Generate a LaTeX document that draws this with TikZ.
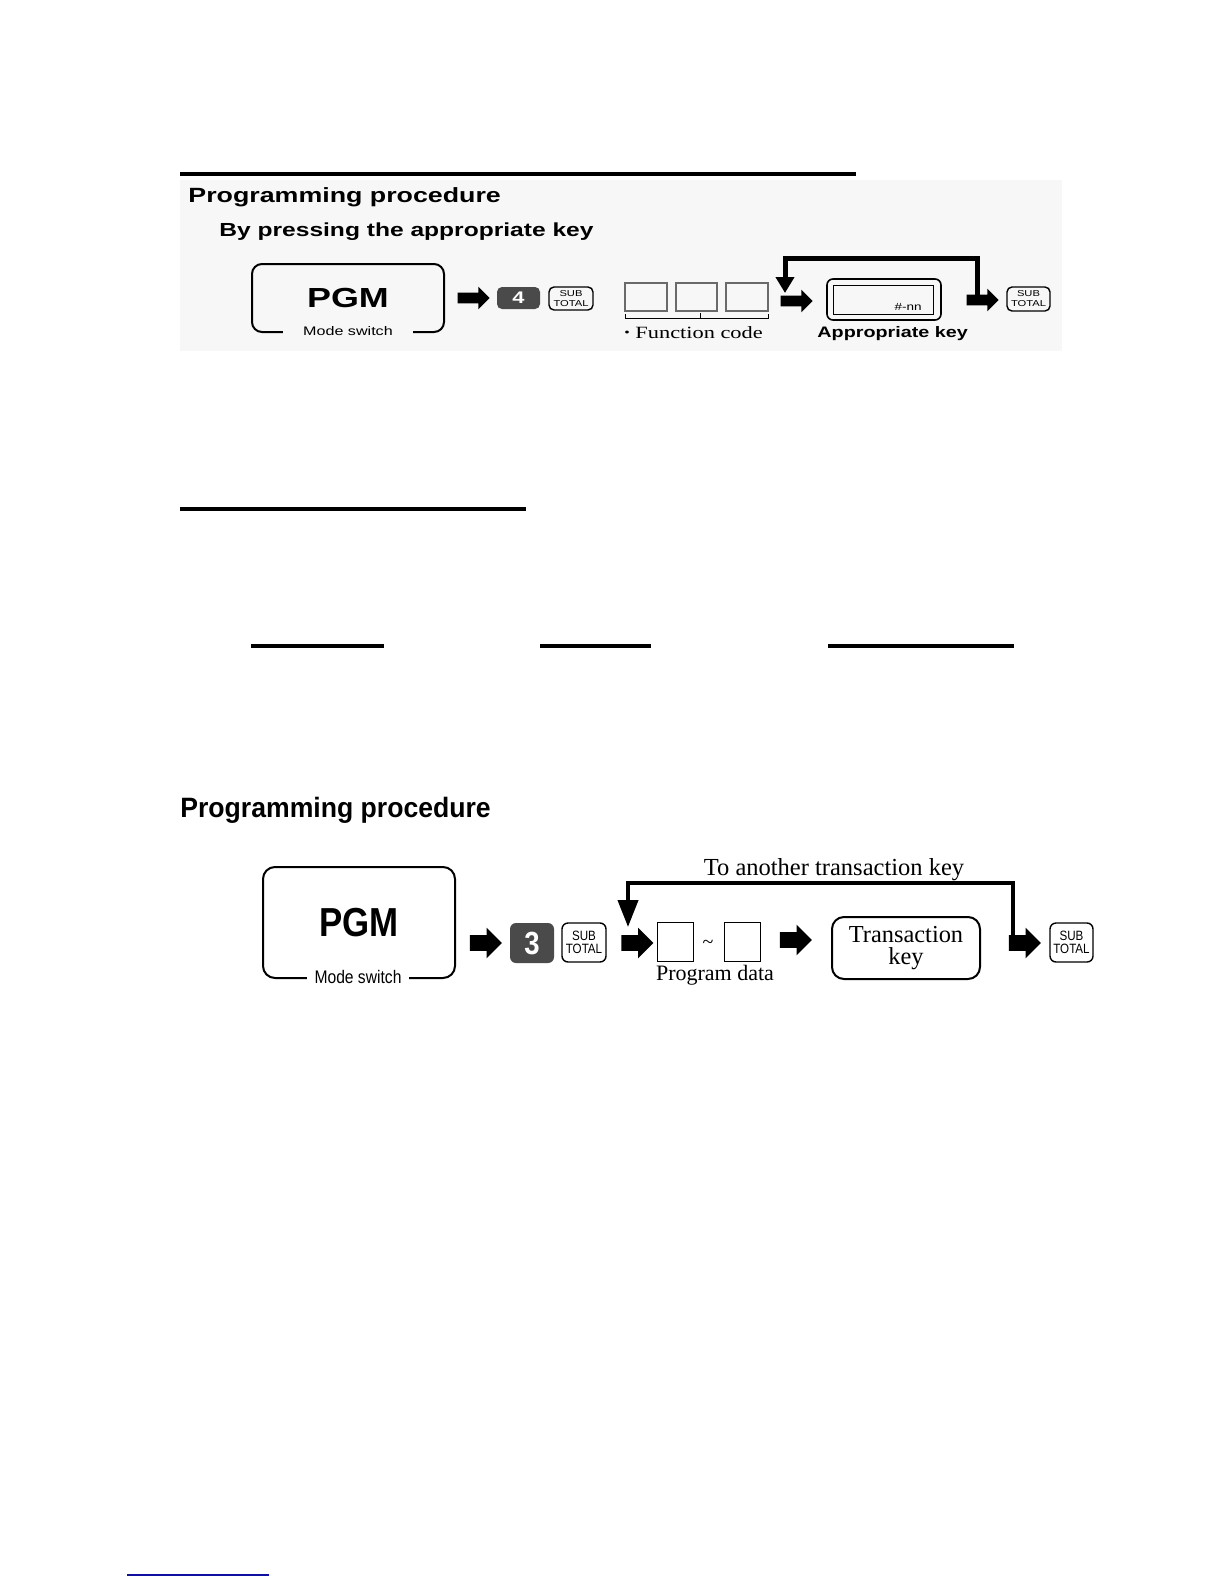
\documentclass[tikz,border=0pt]{standalone}
\usepackage{fontspec}
\setmainfont{Liberation Serif}
\newfontfamily\wsans[FakeStretch=1.3]{Liberation Sans}
\newfontfamily\wserif[FakeStretch=1.3]{Liberation Serif}
\newfontfamily\hsans[FakeStretch=0.95]{Liberation Sans}
\newfontfamily\nsans[FakeStretch=0.86]{Liberation Sans}
\newfontfamily\tserif{Liberation Serif}
\usetikzlibrary{shapes.arrows,arrows.meta}
\definecolor{keygray}{HTML}{4A4A4A}
\definecolor{boxgray}{HTML}{6A6A6A}
\definecolor{linkblue}{RGB}{16,16,160}
\definecolor{panelbg}{gray}{0.97}
\tikzset{
  barrowT/.style={single arrow, fill=black, draw=none, inner xsep=0pt, inner ysep=2.5pt,
    minimum height=16pt, single arrow head extend=3pt, single arrow head indent=0pt},
  barrowB/.style={single arrow, fill=black, draw=none, inner xsep=0pt, inner ysep=3.75pt,
    minimum height=16pt, single arrow head extend=3.75pt, single arrow head indent=0pt},
  rule/.style={line width=1.6pt},
  loopT/.style={line width=2.5pt, line join=miter, -{Triangle[width=9pt,length=8pt]}},
  loopB/.style={line width=2pt, line join=miter, -{Triangle[width=10pt,length=13.5pt]}},
  keydark/.style={fill=keygray, draw=none, rounded corners=2.5pt, text=white, inner sep=0pt},
  keysub/.style={draw=black, line width=0.7pt, rounded corners=2.5pt, inner sep=0pt, align=center},
  subT/.style={keysub, font={\wsans\fontsize{4.3}{5}\selectfont}},
  subB/.style={keysub, rounded corners=3pt, font={\nsans\fontsize{6.75}{6.5}\selectfont}},
  digbox/.style={draw=boxgray, line width=1pt, inner sep=0pt, minimum width=21pt, minimum height=14pt},
  pdbox/.style={draw=black, line width=0.5pt, inner sep=0pt, minimum width=18pt, minimum height=19.5pt},
  txt/.style={inner sep=0pt},
}
\begin{document}
\begin{tikzpicture}[x=0.5pt,y=-0.5pt]
\useasboundingbox (0,0) rectangle (1224,1584);

% ---------------- top panel ----------------
\fill[panelbg] (180,180) rectangle (1062,351);
\draw[rule] (180,174) -- (856,174);
\node[txt, anchor=base west] (t1) at (188,202) {\wsans\bfseries\fontsize{10.3}{12}\selectfont Programming procedure};
\node[txt, anchor=base west] (t2) at (219,236) {\wsans\bfseries\fontsize{9.45}{11}\selectfont By pressing the appropriate key};

\node[draw, line width=1pt, rounded corners=5pt, minimum width=96pt, minimum height=34pt, inner sep=0pt]
  (pgm1) at (348,298) {\wsans\bfseries\fontsize{13.8}{16}\selectfont PGM};
\node[fill=panelbg, inner xsep=10pt, inner ysep=1pt, anchor=base] (ms1) at (348,335)
  {\wsans\fontsize{6.2}{7}\selectfont Mode switch};

\node[barrowT] (ta1) at (471,298) {};
\node[keydark, minimum width=21.5pt, minimum height=11pt] (k4) at (518.5,298)
  {\wsans\bfseries\fontsize{8.4}{9}\selectfont 4};
\node[subT, minimum width=22pt, minimum height=11.5pt] (s1) at (571,298.5) {SUB\\TOTAL};

\node[digbox] (fc1) at (646,297) {};
\node[digbox, minimum width=20.5pt] (fc2) at (696.5,297) {};
\node[digbox] (fc3) at (747,297) {};
\draw[line width=0.5pt] (625,314) -- (625,318) -- (768,318) -- (768,314);
\draw[line width=0.5pt] (700,318) -- (700,313);
\node[txt, anchor=base west] (fct) at (624,338) {\wserif\fontsize{8.6}{10}\selectfont {\fontsize{6}{7}\selectfont\raisebox{0.6pt}{•}} Function code};

\node[barrowT] (ta2) at (794,301) {};
\node[draw, line width=0.8pt, rounded corners=3pt, minimum width=57pt, minimum height=20.5pt, inner sep=0pt]
  (ak) at (884,299.5) {};
\node[draw, line width=0.5pt, minimum width=50pt, minimum height=14.5pt, inner sep=0pt]
  (aki) at (883,299.5) {};
\node[txt, anchor=base east] (nn) at (922,310) {\wsans\fontsize{5.2}{6}\selectfont \#-nn};
\node[txt, anchor=base west] (akt) at (817,337) {\wsans\bfseries\fontsize{7.6}{9}\selectfont Appropriate key};

\node[barrowT] (ta3) at (980,300) {};
\node[subT, minimum width=21.5pt, minimum height=12pt] (s2) at (1028.5,299) {SUB\\TOTAL};

\coordinate (ltS) at (977,296);
\coordinate (ltE) at (785,293);
\draw[loopT] (ltS) -- ++(0,-38) -| (ltE);

% ---------------- rules ----------------
\draw[rule] (180,509) -- (526,509);
\draw[rule] (251,646) -- (384,646);
\draw[rule] (540,646) -- (651,646);
\draw[rule] (828,646) -- (1014,646);

% ---------------- bottom panel ----------------
\node[txt, anchor=base west] (h2) at (180,817) {\hsans\bfseries\fontsize{14}{16}\selectfont Programming procedure};

\node[draw, line width=1pt, rounded corners=6pt, minimum width=96pt, minimum height=55.5pt, inner sep=0pt]
  (pgm2) at (359,922.5) {\nsans\bfseries\fontsize{20.25}{22}\selectfont PGM};
\node[fill=white, inner xsep=3.75pt, inner ysep=1pt, anchor=base] (ms2) at (358,983)
  {\nsans\fontsize{9.1}{10}\selectfont Mode switch};

\node[barrowB] (ba1) at (482,943) {};
\node[keydark, rounded corners=3pt, minimum width=22pt, minimum height=20pt] (k3) at (532,943)
  {\nsans\bfseries\fontsize{16}{18}\selectfont 3};
\node[subB, minimum width=22pt, minimum height=19.5pt] (s3) at (584,942.5) {SUB\\TOTAL};

\node[barrowB] (ba2) at (633.5,943) {};
\node[pdbox] (pd1) at (675,941.5) {};
\node[txt] (tl) at (708,944) {\tserif\fontsize{10}{12}\selectfont \char"007E};
\node[pdbox] (pd2) at (742,941.5) {};
\node[txt, anchor=base] (pdt) at (715,980) {\tserif\fontsize{11}{13}\selectfont Program data};

\node[barrowB] (ba3) at (792,940) {};
\node[draw, line width=1pt, rounded corners=6pt, minimum width=74pt, minimum height=31pt, inner sep=0pt, align=center,
  font={\tserif\fontsize{12.2}{11}\selectfont}]
  (tk) at (906,948) {Transaction\\key};

\node[barrowB] (ba4) at (1021,943) {};
\node[subB, minimum width=21.5pt, minimum height=19.5pt] (s4) at (1071.5,942.5) {SUB\\TOTAL};

\node[txt, anchor=base] (loopt) at (834,875) {\tserif\fontsize{12.25}{14}\selectfont To another transaction key};
\coordinate (lbS) at (1013,936);
\coordinate (lbE) at (628,927);
\draw[loopB] (lbS) -- ++(0,-53) -| (lbE);

% ---------------- footer rule ----------------
\draw[linkblue, line width=0.6pt] (127,1575) -- (269,1575);
\end{tikzpicture}
\end{document}
